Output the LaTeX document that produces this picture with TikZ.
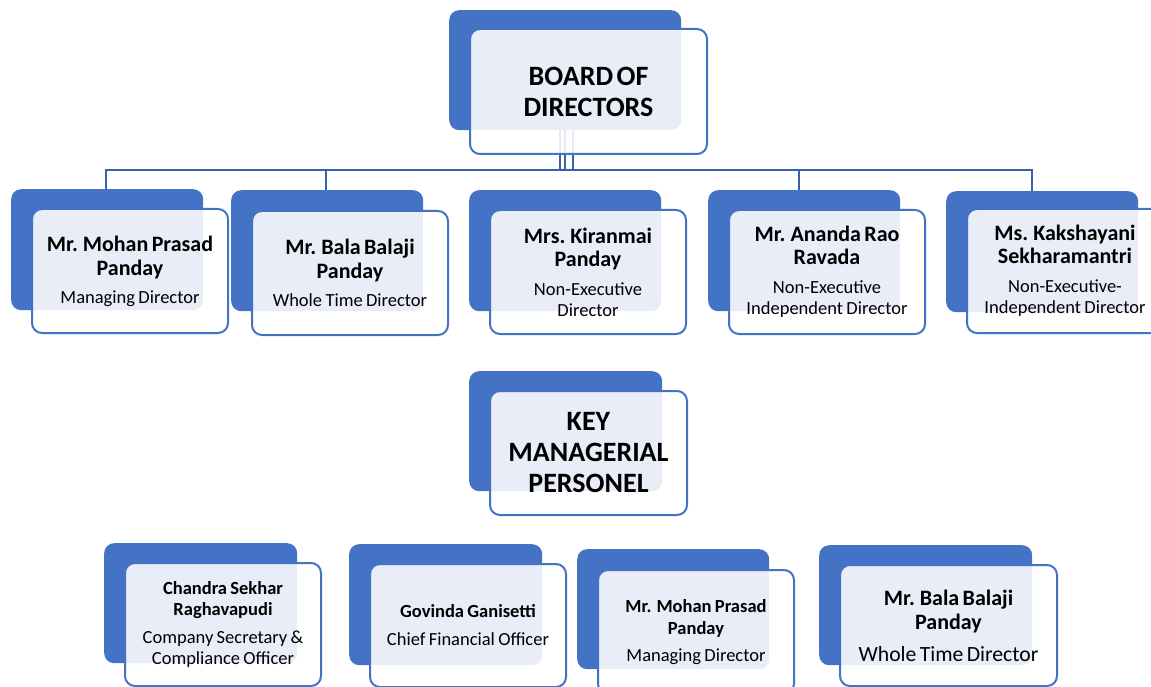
\documentclass[tikz,border=0pt]{standalone}
\usepackage{fontspec}
\setmainfont{Carlito}
\usetikzlibrary{backgrounds}
\definecolor{accent}{RGB}{68,114,196}
\definecolor{conncol}{RGB}{58,98,172}
\newcommand{\myBig}{\fontsize{28}{31}\selectfont\bfseries}
\newcommand{\myName}{\fontsize{22}{24}\selectfont\bfseries}
\newcommand{\myNameT}{\fontsize{22}{23}\selectfont\bfseries}
\newcommand{\myRole}{\fontsize{18.5}{21}\selectfont}
\newcommand{\myNameS}{\fontsize{18.5}{21.5}\selectfont\bfseries}
\newcommand{\myRoleL}{\fontsize{21.7}{24}\selectfont}
\tikzset{
  backcard/.style={fill=accent, draw=none, rounded corners=10pt, anchor=north west,
    minimum width=192pt, minimum height=121pt, inner sep=0pt},
  frontcard/.style={fill=white, fill opacity=0.88, text opacity=1, draw=accent, draw opacity=1,
    line width=2pt, rounded corners=10pt, anchor=north west, minimum width=196pt,
    minimum height=124pt, inner sep=2pt, text width=186pt, align=center, text=black},
  connline/.style={draw=conncol, line width=2pt},
}
\begin{document}
\begin{tikzpicture}[x=1pt,y=-1pt]
\useasboundingbox (0,0) rectangle (1151,687);
% Board
\node[backcard, minimum width=232pt, minimum height=120pt] (boardback) at (449,10) {};
\node[frontcard, minimum width=237pt, minimum height=125pt] (board) at (469,28) {\myBig BOARD OF\\DIRECTORS\par};
% Directors
\node[backcard] (d1back) at (11,189) {};
\node[frontcard] (d1) at (31,208) {{\myName Mr. Mohan Prasad\\Panday\par}\vspace{7pt}{\myRole Managing Director\par}};
\node[backcard] (d2back) at (231,190) {};
\node[frontcard] (d2) at (251,210) {{\myName Mr. Bala Balaji\\Panday\par}\vspace{7pt}{\myRole Whole Time Director\par}};
\node[backcard] (d3back) at (469,190) {};
\node[frontcard] (d3) at (489,209) {{\myNameT Mrs. Kiranmai\\Panday\par}\vspace{8pt}{\myRole Non-Executive\\Director\par}};
\node[backcard] (d4back) at (708,190) {};
\node[frontcard] (d4) at (728,209) {{\myNameT Mr. Ananda Rao\\Ravada\par}\vspace{8pt}{\myRole Non-Executive\\Independent Director\par}};
\node[backcard] (d5back) at (946,191) {};
\node[frontcard] (d5) at (966,208) {{\myNameT Ms. Kakshayani\\Sekharamantri\par}\vspace{8pt}{\myRole Non-Executive-\\Independent Director\par}};
% KMP
\node[backcard, minimum width=193pt, minimum height=120pt] (kmpback) at (469,371) {};
\node[frontcard, minimum width=197pt] (kmp) at (489,390) {\myBig KEY\\MANAGERIAL\\PERSONEL\par};
% KMP members
\node[backcard, minimum width=193pt, minimum height=120pt] (kaback) at (104,543) {};
\node[frontcard, minimum height=123pt] (ka) at (124,562) {{\myNameS Chandra Sekhar\\Raghavapudi\par}\vspace{7pt}{\myRole Company Secretary \&\\Compliance Officer\par}};
\node[backcard, minimum width=193pt] (kbback) at (349,544) {};
\node[frontcard, minimum height=123pt] (kb) at (369,563) {{\myNameS Govinda Ganisetti\par}\vspace{7pt}{\myRole Chief Financial Officer\par}};
\node[backcard, minimum height=120pt] (kcback) at (577,549) {};
\node[frontcard] (kc) at (597,569) {{\myNameS Mr. Mohan Prasad\\Panday\par}\vspace{6pt}{\myRole Managing Director\par}};
\node[backcard, minimum width=213pt, minimum height=120pt] (kdback) at (819,545) {};
\node[frontcard, minimum width=217pt, minimum height=121pt, text width=209pt] (kd) at (839,564) {{\myName Mr. Bala Balaji\\Panday\par}\vspace{8pt}{\myRoleL Whole Time Director\par}};
% Connectors
\coordinate (t1) at (560,170);
\coordinate (t2) at (565,170);
\coordinate (t3) at (573,170);
\coordinate (barL) at (106,170);
\coordinate (bar2) at (326,170);
\coordinate (bar4) at (799,170);
\coordinate (barR) at (1032,170);
\begin{pgfonlayer}{background}
  \draw[connline] (t1 |- boardback.south) -- (t1);
  \draw[connline] (t2 |- boardback.south) -- (t2);
  \draw[connline] (t3 |- boardback.south) -- (t3);
  \draw[connline] (barL |- d1back.north) -- (barL) -- (barR) -- (barR |- d5back.north);
  \draw[connline] (bar2) -- (bar2 |- d2back.north);
  \draw[connline] (bar4) -- (bar4 |- d4back.north);
\end{pgfonlayer}
\end{tikzpicture}
\end{document}
